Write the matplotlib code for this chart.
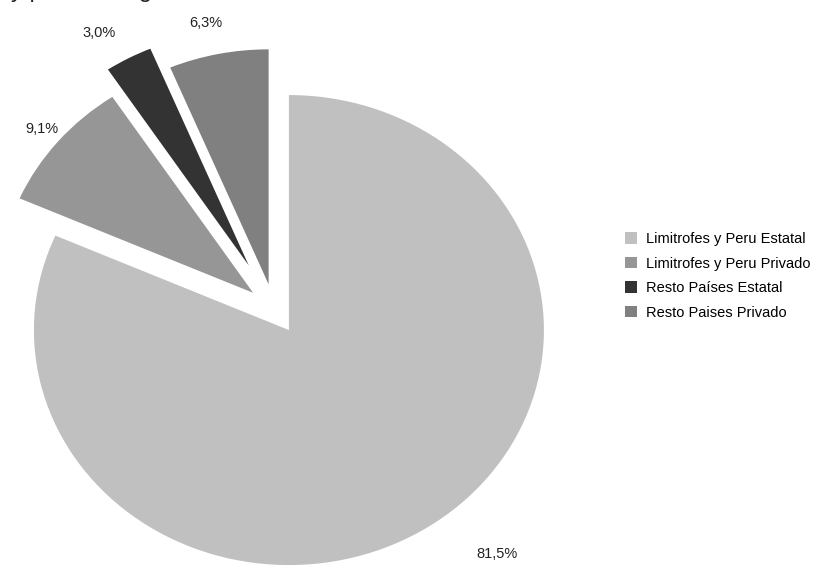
import numpy as np
from matplotlib import pyplot as plt

plt.rcParams['font.family'] = ['Liberation Sans', 'DejaVu Sans']

# data
categories = ['Limitrofes y Peru Estatal', 'Limitrofes y Peru Privado',
              'Resto Países Estatal', 'Resto Paises Privado']
values = [81.5, 9.1, 3.0, 6.3]
labels = ['81,5%', '9,1%', '3,0%', '6,3%']
colors = ['#c0c0c0', '#969696', '#333333', '#808080']
explode = [0.107, 0.107, 0.21, 0.107]

# label placement (distance from slice centre, angle nudge in degrees)
label_dist = [1.254, 1.085, 1.15, 1.14]
label_shift = [7.5, 0, 2.6, 1.2]

fig = plt.figure(figsize=(8.3, 5.68), dpi=100)
ax = fig.add_axes([0, 0, 1, 1])

wedges, _ = ax.pie(values, colors=colors, explode=explode, startangle=90,
                   counterclock=False, wedgeprops=dict(linewidth=0))

ax.set_aspect('auto')
ax.set_xlim(-1.0745, 2.1804)
ax.set_ylim(-1.1021, 1.3149)
ax.axis('off')

for w, lab, d, s in zip(wedges, labels, label_dist, label_shift):
    ang = np.deg2rad((w.theta1 + w.theta2) / 2 + s)
    cx, cy = w.center
    ax.text(cx + d * np.cos(ang), cy + d * np.sin(ang), lab,
            ha='center', va='center', fontsize=10.5, color='#222222')

leg = fig.legend(wedges, categories, loc='upper left',
                 bbox_to_anchor=(612 / 830, 1 - 219 / 568),
                 frameon=False, fontsize=10.5, handlelength=0.8,
                 handleheight=0.8, handletextpad=0.6, labelspacing=0.72)

# title cut off at the top of the original picture
fig.text(11 / 830, 1 + 3 / 568, 'y privada según', fontsize=17,
         va='baseline', ha='left', color='#222222')

plt.savefig('out.png', dpi=100)
